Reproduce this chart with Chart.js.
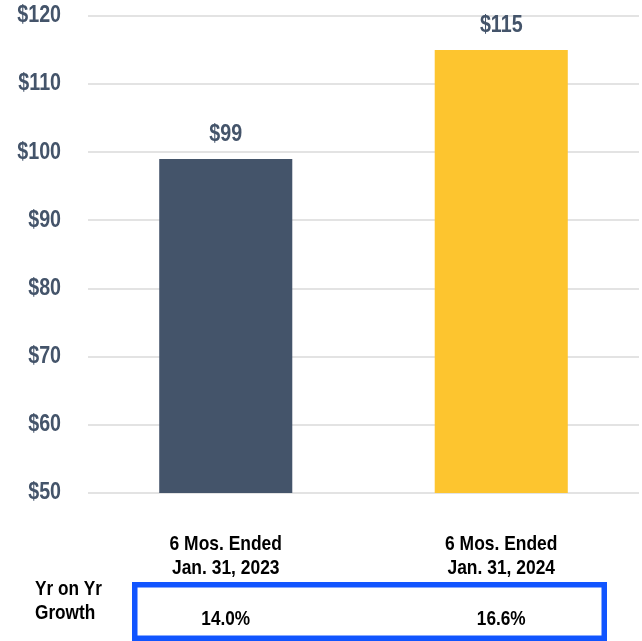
<!DOCTYPE html>
<html>
<head>
<meta charset="utf-8">
<script src="https://cdn.jsdelivr.net/npm/chart.js@4.4.1/dist/chart.umd.min.js"></script>
<style>
  html, body { margin: 0; padding: 0; background: #ffffff; }
  #wrap { width: 642px; height: 641px; position: relative; }
</style>
</head>
<body>
<div id="wrap"><canvas id="revenueChart"></canvas></div>
<script>
// Chart data
const categories = [
    ['6 Mos. Ended', 'Jan. 31, 2023'],
    ['6 Mos. Ended', 'Jan. 31, 2024']
];
const revenue = [99, 115];
const valueLabels = ['$99', '$115'];
const growthLabel = ['Yr on Yr', 'Growth'];
const growth = ['14.0%', '16.6%'];
const barColors = ['#44546A', '#FDC52F'];

const SLATE = '#44546A';
const FONT = "'Liberation Sans', Arial, sans-serif";

// Arial Narrow is not available, so squeeze Liberation Sans Bold horizontally
function narrowText(ctx, text, x, y, size, squeeze, align) {
    ctx.save();
    ctx.font = `bold ${size}px ${FONT}`;
    ctx.textAlign = align;
    ctx.textBaseline = 'middle';
    ctx.translate(x, y);
    ctx.scale(squeeze, 1);
    ctx.fillText(text, 0, 0);
    ctx.restore();
}

// Tick labels, value labels, category labels and the growth row
const labelsPlugin = {
    id: 'narrowLabels',
    afterDraw(chart) {
        const ctx = chart.ctx;
        const meta = chart.getDatasetMeta(0);
        const yScale = chart.scales.y;

        ctx.save();
        ctx.fillStyle = SLATE;
        yScale.ticks.forEach((tick) => {
            const y = yScale.getPixelForValue(tick.value);
            narrowText(ctx, '$' + tick.value, 61, y, 23, 0.855, 'right');
        });

        meta.data.forEach((bar, i) => {
            ctx.fillStyle = SLATE;
            narrowText(ctx, valueLabels[i], bar.x, bar.y - 24, 23, 0.855, 'center');
            ctx.fillStyle = '#000000';
            narrowText(ctx, categories[i][0], bar.x, 544, 21, 0.83, 'center');
            narrowText(ctx, categories[i][1], bar.x, 568, 21, 0.83, 'center');
            narrowText(ctx, growth[i], bar.x, 619, 21, 0.82, 'center');
        });

        ctx.fillStyle = '#000000';
        narrowText(ctx, growthLabel[0], 35, 589, 21, 0.82, 'left');
        narrowText(ctx, growthLabel[1], 35, 613, 21, 0.82, 'left');

        ctx.strokeStyle = '#1155FF';
        ctx.lineWidth = 5.5;
        ctx.strokeRect(134.75, 584.75, 469.5, 53.5);
        ctx.restore();
    }
};

const ctx = document.getElementById('revenueChart').getContext('2d');
new Chart(ctx, {
    type: 'bar',
    data: {
        labels: categories,
        datasets: [{
            data: revenue,
            backgroundColor: barColors,
            borderWidth: 0,
            barPercentage: 0.483,
            categoryPercentage: 1.0
        }]
    },
    options: {
        responsive: true,
        maintainAspectRatio: false,
        animation: false,
        layout: {
            padding: { left: 0, right: 3, top: 16, bottom: 0 }
        },
        plugins: {
            legend: { display: false },
            tooltip: { enabled: false }
        },
        scales: {
            x: {
                grid: { display: false },
                border: { display: false },
                ticks: { display: false },
                afterFit(scale) { scale.height = 148; }
            },
            y: {
                min: 50,
                max: 120,
                grid: { color: '#E3E3E3', lineWidth: 2, drawTicks: false },
                border: { display: false },
                ticks: { stepSize: 10, display: false },
                afterFit(scale) {
                    scale.width = 88;
                    scale.paddingTop = 0;
                    scale.paddingBottom = 0;
                }
            }
        }
    },
    plugins: [labelsPlugin]
});
</script>
</body>
</html>
